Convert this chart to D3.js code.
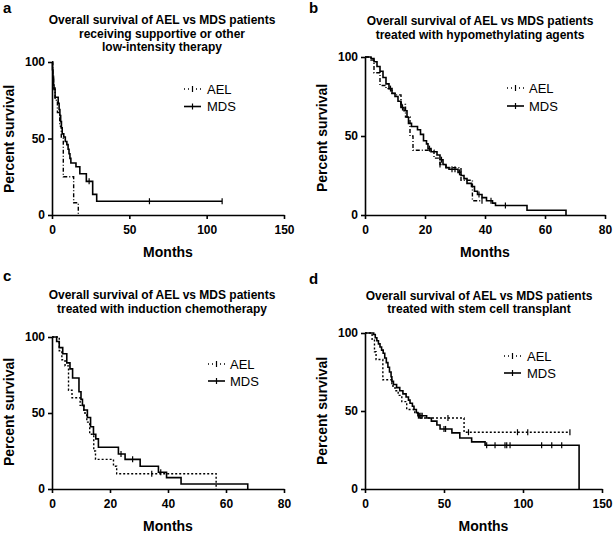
<!DOCTYPE html>
<html><head><meta charset="utf-8">
<script src="https://cdn.jsdelivr.net/npm/d3@7/dist/d3.min.js"></script>
<style>body{margin:0;background:#fff}svg{display:block}text{font-family:"Liberation Sans",Arial,sans-serif}</style>
</head><body>
<svg id="c" width="614" height="533"></svg>
<script>
// ---------- DATA ----------
const seriesNames = ["AEL", "MDS"];
const panelLetters = ["a", "b", "c", "d"];
const panelTitles = [
  ["Overall survival of AEL vs MDS patients", "receiving supportive or other", "low-intensity therapy"],
  ["Overall survival of AEL vs MDS patients", "treated with hypomethylating agents"],
  ["Overall survival of AEL vs MDS patients", "treated with induction chemotherapy"],
  ["Overall survival of AEL vs MDS patients", "treated with stem cell transplant"]
];
const xTicksA = [0, 50, 100, 150];
const xTicksB = [0, 20, 40, 60, 80];
const xTicksC = [0, 20, 40, 60, 80];
const xTicksD = [0, 50, 100, 150];
const yTicks = [0, 50, 100];
const xLabel = "Months";
const yLabel = "Percent survival";

// Kaplan-Meier steps: [month, percent survival after step]
const aelA = [[0,100],[0.5,92],[1,83],[2,75],[3.5,67],[5,58],[6,51],[7.3,25],[14,8],[17,0]];
const aelEndA = 17, aelCensA = [];
const mdsA = [[0,100],[0.3,95],[0.6,90],[1,85],[1.3,82],[2,77],[4,73],[4.6,69],[5.1,65],[5.6,61],[6.1,57],[6.6,53],[7.6,51],[8.6,48],[9.6,46],[10.4,43],[11,40],[11.6,37],[12.2,34],[15.5,31.5],[18,27],[22.2,22],[26.3,13.5],[28.9,9]];
const mdsEndA = 110, mdsCensA = [24, 63, 110];

const aelB = [[0,100],[2,98],[3,90],[5,82],[7,80],[9,77],[10.5,76],[12,70],[13.5,62],[15,50],[16,41],[23,36],[25,32],[27,30],[32,22],[35.8,9]];
const aelEndB = 39, aelCensB = [12, 25, 39];
const mdsB = [[0,100],[2,99],[3,97],[4,94],[5,91],[6,87],[7,83],[8,80],[9,77],[10,75],[11,72],[12,68],[13,66],[14,62],[14.5,58],[15.5,56],[17.5,54],[18.5,51],[19.5,47],[20.5,45],[21,42],[22,40],[24,38],[25,35],[26,32],[27,30],[28,29],[31,27],[32,25],[33,23],[34,20],[35.5,18],[36.5,15],[37.5,13],[39,11],[40.5,9],[42.5,7.5],[43.5,6],[54,3],[67,0]];
const mdsEndB = 67, mdsCensB = [8.5, 12.5, 21.5, 25.5, 29, 30, 31.5, 38, 42, 46.8];

const aelC = [[0,100],[2.5,91],[3.4,85],[4.5,81],[5.7,65],[6.9,60],[9.7,55],[11,50],[12,44],[13,36],[14.4,25],[15,19.5],[21.2,15],[22.3,10],[56.6,0]];
const aelEndC = 56.6, aelCensC = [34.4];
const mdsC = [[0,100],[1.6,97],[2.5,93],[3.7,89],[5.1,83],[6.2,79],[7.1,73],[9.3,64],[10,59],[10.5,55],[11,52],[12.2,47],[13.3,41],[14.3,36],[15.1,33],[16,27.5],[22.9,23],[25.2,19.5],[30.4,15],[36.7,11],[39.5,7.5],[44.5,3.3],[67.5,0]];
const mdsEndC = 67.5, mdsCensC = [23.8, 27.8, 37.5];

const aelD = [[0,100],[4.5,96],[6,88],[7,83],[11.3,70],[17,66],[19,63],[21,60],[23.3,56],[26.4,51],[31.5,48.5],[34,45.5],[62.7,36.4]];
const aelEndD = 129.7, aelCensD = [52.5, 65.5, 96.5, 103, 129.7];
const mdsD = [[0,100],[5.5,99],[6.5,97],[7.5,95],[8.5,93],[9.5,91],[10.5,89],[11.5,87],[12.5,84],[13.5,81],[14.5,78],[15.5,75],[16.5,72],[17,69],[18,67],[20,65],[22,63],[24,61],[26,59],[27.5,57],[28.5,55],[30,53],[31,51],[32.5,49],[33.5,47],[39,45.5],[42,43.5],[45.5,41],[47.5,38.5],[55,36],[60,32.7],[67.5,30.2],[76,28],[135.5,0]];
const mdsEndD = 135.5, mdsCensD = [33.8, 34.6, 35.4, 36.2, 50, 51, 77, 82.3, 88.6, 89.7, 91.8, 111.8, 118.2, 124.5];

// ---------- LAYOUT ----------
const panels = [
  {letter:[3,13], title:{x:162, y:[24,37.5,51]}, xr:[52,284], yr:[215,62], xmax:150, ticks:xTicksA,
   ael:aelA, aelEnd:aelEndA, aelCens:aelCensA, mds:mdsA, mdsEnd:mdsEndA, mdsCens:mdsCensA,
   dash:"4,2,1,2", leg:{lx:184, tx:207, y:[89,106.5]}, ylab:[14,139], xlab:257},
  {letter:[309,13], title:{x:480, y:[25,38.5]}, xr:[365,605], yr:[215,57], xmax:80, ticks:xTicksB,
   ael:aelB, aelEnd:aelEndB, aelCens:aelCensB, mds:mdsB, mdsEnd:mdsEndB, mdsCens:mdsCensB,
   dash:"4,2,1,2", leg:{lx:507, tx:529, y:[88,106]}, ylab:[327,138], xlab:257},
  {letter:[3,281], title:{x:162, y:[299,312.5]}, xr:[52,284], yr:[489,337], xmax:80, ticks:xTicksC,
   ael:aelC, aelEnd:aelEndC, aelCens:aelCensC, mds:mdsC, mdsEnd:mdsEndC, mdsCens:mdsCensC,
   dash:"2,2", leg:{lx:208, tx:230, y:[364,381]}, ylab:[14,412], xlab:531},
  {letter:[309,284], title:{x:479, y:[300,313]}, xr:[365,602], yr:[489,333], xmax:150, ticks:xTicksD,
   ael:aelD, aelEnd:aelEndD, aelCens:aelCensD, mds:mdsD, mdsEnd:mdsEndD, mdsCens:mdsCensD,
   dash:"2,2", leg:{lx:504, tx:527, y:[356,373]}, ylab:[327,411], xlab:531}
];

const svg = d3.select("#c");

function stepPath(steps, end, x, y){
  let d = "M" + x(steps[0][0]) + "," + y(steps[0][1]);
  for (let i = 1; i < steps.length; i++){
    d += "H" + x(steps[i][0]) + "V" + y(steps[i][1]);
  }
  d += "H" + x(end);
  return d;
}
function survAt(steps, t){
  let s = steps[0][1];
  for (const p of steps){ if (p[0] <= t) s = p[1]; }
  return s;
}

panels.forEach((p, i) => {
  const g = svg.append("g");
  const x = d3.scaleLinear().domain([0, p.xmax]).range(p.xr);
  const y = d3.scaleLinear().domain([0, 100]).range(p.yr);

  g.append("text").attr("x", p.letter[0]).attr("y", p.letter[1])
    .attr("font-size", 15).attr("font-weight", "bold").text(panelLetters[i]);
  panelTitles[i].forEach((t, j) => {
    g.append("text").attr("x", p.title.x).attr("y", p.title.y[j]).attr("text-anchor", "middle")
      .attr("font-size", 12).attr("font-weight", "bold").text(t);
  });

  const xa = g.append("g").attr("transform", `translate(0,${p.yr[0]})`)
    .call(d3.axisBottom(x).tickValues(p.ticks).tickSize(4).tickSizeOuter(0).tickPadding(6).tickFormat(d3.format("d")));
  const ya = g.append("g").attr("transform", `translate(${p.xr[0]},0)`)
    .call(d3.axisLeft(y).tickValues(yTicks).tickSize(4).tickSizeOuter(0).tickPadding(3).tickFormat(d3.format("d")));
  [xa, ya].forEach(a => {
    a.select(".domain").attr("stroke", "#000").attr("stroke-width", 1.6);
    a.selectAll(".tick line").attr("stroke", "#000").attr("stroke-width", 1.6);
    a.selectAll(".tick text").attr("font-size", 12).attr("font-weight", "bold").attr("fill", "#000")
      .attr("font-family", '"Liberation Sans",Arial,sans-serif');
  });

  g.append("text").attr("x", (p.xr[0] + p.xr[1]) / 2).attr("y", p.xlab).attr("text-anchor", "middle")
    .attr("font-size", 14).attr("font-weight", "bold").text(xLabel);
  g.append("text").attr("transform", `translate(${p.ylab[0]},${p.ylab[1]}) rotate(-90)`).attr("text-anchor", "middle")
    .attr("font-size", 14).attr("font-weight", "bold").text(yLabel);

  // curves
  const curves = [
    {steps:p.ael, end:p.aelEnd, cens:p.aelCens, dash:p.dash},
    {steps:p.mds, end:p.mdsEnd, cens:p.mdsCens, dash:null}
  ];
  curves.forEach(c => {
    g.append("path").attr("d", stepPath(c.steps, c.end, x, y)).attr("fill", "none")
      .attr("stroke", "#000").attr("stroke-width", c.dash ? 1.4 : 1.6)
      .attr("stroke-dasharray", c.dash);
    c.cens.forEach(t => {
      const cx = x(t), cy = y(survAt(c.steps, t));
      g.append("line").attr("x1", cx).attr("x2", cx).attr("y1", cy - 3).attr("y2", cy + 3)
        .attr("stroke", "#000").attr("stroke-width", 1.2);
    });
  });

  // legend
  seriesNames.forEach((nm, j) => {
    const ly = p.leg.y[j];
    g.append("line").attr("x1", p.leg.lx).attr("x2", p.leg.lx + 17).attr("y1", ly).attr("y2", ly)
      .attr("stroke", "#000").attr("stroke-width", j === 0 ? 1.4 : 1.6)
      .attr("stroke-dasharray", j === 0 ? "1,3" : null);
    const mx = p.leg.lx + 8.5;
    g.append("line").attr("x1", mx).attr("x2", mx).attr("y1", ly - 3).attr("y2", ly + 3)
      .attr("stroke", "#000").attr("stroke-width", 1.2);
    g.append("text").attr("x", p.leg.tx).attr("y", ly + 4.5).attr("font-size", 13).text(nm);
  });
});
</script>
</body></html>
